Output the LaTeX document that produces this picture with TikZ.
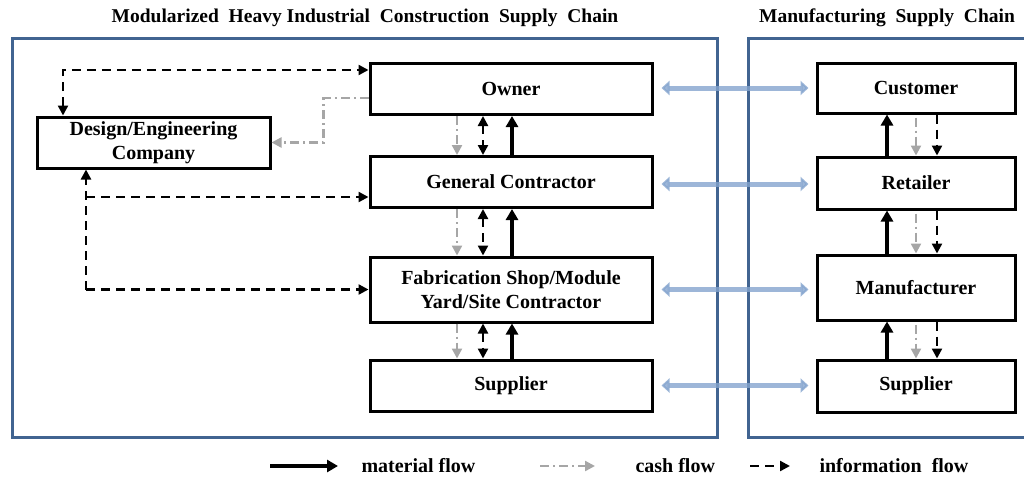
\documentclass[tikz,border=0pt]{standalone}
\usepackage{fontspec}
\setmainfont{Liberation Serif}
\usetikzlibrary{arrows.meta,calc}
\definecolor{framecol}{RGB}{65,100,145}
\definecolor{bluearr}{RGB}{132,164,206}
\definecolor{cashgray}{RGB}{166,166,166}
\tikzset{
  box/.style={draw=black, line width=3pt, fill=white, align=center, inner sep=2pt,
    font=\fontsize{20}{24}\selectfont\bfseries},
  frame/.style={draw=framecol, line width=3pt},
  matflow/.style={line width=3.5pt, -{Triangle[length=11pt,width=12pt]}},
  infoflow/.style={line width=2.3pt, dash pattern=on 9pt off 6pt, -{Triangle[length=10pt,width=10pt]}},
  infoboth/.style={line width=2.3pt, dash pattern=on 9pt off 6pt, {Triangle[length=10pt,width=10pt]}-{Triangle[length=10pt,width=10pt]}},
  cashflow/.style={draw=cashgray, line width=2.3pt, dash pattern=on 9pt off 4pt on 2pt off 4pt, -{Triangle[length=10pt,width=10pt,fill=cashgray]}},
  bluelink/.style={draw=bluearr, opacity=0.8, line width=5pt,
    {Triangle[length=8pt,width=14pt]}-{Triangle[length=8pt,width=14pt]}},
  title/.style={font=\fontsize{19.5}{22}\selectfont\bfseries},
  legend/.style={font=\fontsize{20}{22}\selectfont\bfseries, anchor=west}
}
\begin{document}
\begin{tikzpicture}[x=1pt,y=-1pt]
\useasboundingbox (0,0) rectangle (1024,479);
\clip (0,0) rectangle (1024,479);
% frames
\draw[frame] (12,38) rectangle (717,437);
\draw[frame] (748,38) rectangle (1040,437);
% titles
\node[title] (t1) at (365,18) {Modularized\ \ Heavy Industrial\ \ Construction\ \ Supply\ \ Chain};
\node[title] (t2) at (887,18) {Manufacturing\ \ Supply\ \ Chain};
% left boxes
\node[box, minimum width=282pt, minimum height=51pt] (owner) at (511,89) {Owner};
\node[box, minimum width=233pt, minimum height=51pt] (design) at (153.5,142.5) {Design/Engineering\\Company};
\node[box, minimum width=282pt, minimum height=51pt] (gc) at (511,182) {General Contractor};
\node[box, minimum width=282pt, minimum height=65pt] (fab) at (511,289.5) {Fabrication Shop/Module\\Yard/Site Contractor};
\node[box, minimum width=282pt, minimum height=51pt] (supl) at (511,385.5) {Supplier};
% right boxes
\node[box, minimum width=198pt, minimum height=50pt] (cust) at (916,88) {Customer};
\node[box, minimum width=198pt, minimum height=52pt] (ret) at (916,183) {Retailer};
\node[box, minimum width=198pt, minimum height=65pt] (man) at (916,287.5) {Manufacturer};
\node[box, minimum width=198pt, minimum height=52pt] (supr) at (916,386) {Supplier};
% coordinates
\coordinate (cL) at (457,0);
\coordinate (iL) at (483,0);
\coordinate (mL) at (512,0);
\coordinate (mR) at (887,0);
\coordinate (cR) at (916,0);
\coordinate (iR) at (937,0);
\coordinate (dx) at (63,0);
\coordinate (ex) at (86,0);
% left column vertical flows
\foreach \a/\b in {owner/gc, gc/fab, fab/supl}{
  \draw[cashflow] (cL |- \a.south) -- (cL |- \b.north);
  \draw[infoboth] (iL |- \a.south) -- (iL |- \b.north);
  \draw[matflow] (mL |- \b.north) -- (mL |- \a.south);
}
% right column vertical flows
\foreach \a/\b in {cust/ret, ret/man, man/supr}{
  \draw[matflow] (mR |- \b.north) -- (mR |- \a.south);
  \draw[cashflow] ([yshift=-3pt]cR |- \a.south) -- (cR |- \b.north);
  \draw[infoflow] (iR |- \a.south) -- (iR |- \b.north);
}
% design links
\draw[infoboth] (design.north -| dx) |- ([yshift=19pt]owner.west);
\draw[cashflow] ([yshift=-9pt]owner.west) -- ++(-45,0) |- (design.east);
\draw[infoflow] (ex |- fab.west) -- (design.south -| ex);
\draw[infoflow] ([yshift=-15pt]gc.west -| ex) -- ([yshift=-15pt]gc.west);
\draw[infoflow] (ex |- fab.west) -- (fab.west);
% blue links
\draw[bluelink, shorten <=8pt, shorten >=7pt] ([yshift=1pt]owner.east) -- ([yshift=1pt]owner.east -| cust.west);
\draw[bluelink, shorten <=8pt, shorten >=7pt] ([yshift=-2pt]gc.east) -- ([yshift=-2pt]gc.east -| ret.west);
\draw[bluelink, shorten <=8pt, shorten >=7pt] (fab.east) -- (fab.east -| man.west);
\draw[bluelink, shorten <=8pt, shorten >=7pt] (supl.east) -- (supl.east -| supr.west);
% legend
\coordinate (l1a) at (270,466); \coordinate (l1b) at (338,466);
\coordinate (l2a) at (540,466); \coordinate (l2b) at (595,466);
\coordinate (l3a) at (750,466); \coordinate (l3b) at (790,466);
\draw[matflow] (l1a) -- (l1b);
\draw[cashflow] (l2a) -- (l2b);
\draw[infoflow] (l3a) -- (l3b);
\node[legend] (lt1) at (358,466) {material flow};
\node[legend] (lt2) at (632,466) {cash flow};
\node[legend] (lt3) at (816,466) {information\ \ flow};
\end{tikzpicture}
\end{document}
